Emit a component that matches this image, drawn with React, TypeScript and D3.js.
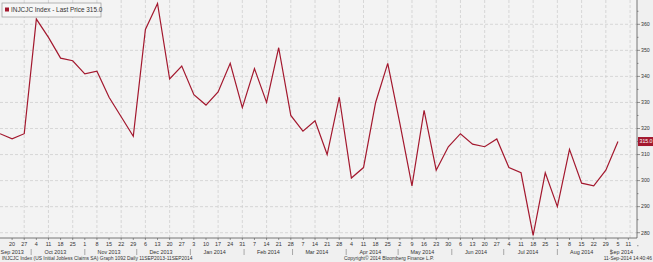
import React from "react";
import * as d3 from "d3";

const startDate = "2013-09-13";
const values = [
  318, 316, 318, 362, 355, 347, 346, 341, 342, 332, 324.5, 317, 358, 368, 339, 344,
  333, 329, 334, 345, 328, 343, 330, 351, 325, 319, 323, 310, 332, 301, 305, 330,
  345, 322, 298, 327, 304, 313, 318, 314, 313, 316, 305, 303, 279, 303, 290, 312,
  299, 298, 304, 315,
];
const yTicks = [280, 290, 300, 310, 320, 330, 340, 350, 360];
const tickDays = [
  "20", "27", "4", "11", "18", "25", "1", "8", "15", "22", "29", "6", "13", "20", "27",
  "3", "10", "17", "24", "31", "7", "14", "21", "28", "7", "14", "21", "28", "4", "11",
  "18", "25", "2", "9", "16", "23", "30", "6", "13", "20", "27", "4", "11", "18", "25",
  "1", "8", "15", "22", "29", "5", "11",
];
const monthLabels = [
  "Sep 2013", "Oct 2013", "Nov 2013", "Dec 2013", "Jan 2014", "Feb 2014", "Mar 2014",
  "Apr 2014", "May 2014", "Jun 2014", "Jul 2014", "Aug 2014", "Sep 2014",
];
const legendText = "INJCJC Index - Last Price 315.0";
const lastLabel = "315.0";
const footerLeft = "INJCJC Index (US Initial Jobless Claims SA) Graph 1092  Daily 11SEP2013-11SEP2014";
const footerMid = "Copyright\u00A9 2014 Bloomberg Finance L.P.";
const footerRight = "11-Sep-2014 14:40:46";

const W = 653;
const H = 262;
const plotR = 637;
const plotB = 238;
const font = "'Liberation Sans', Arial, sans-serif";
const red = "#a3182e";

export default function App() {
  const parse = d3.utcParse("%Y-%m-%d");
  const d0 = parse(startDate) as Date;
  const dates = values.map((_, i) => d3.utcDay.offset(d0, i * 7));
  const x = d3
    .scaleUtc()
    .domain([d0, parse("2014-09-16") as Date])
    .range([0, plotR]);
  const y = d3.scaleLinear().domain([280, 360]).range([232.7, 24.3]);

  const tickDates = tickDays.map((_, i) =>
    i < tickDays.length - 1
      ? d3.utcDay.offset(d0, (i + 1) * 7)
      : (parse("2014-09-11") as Date)
  );
  const gridDates = d3.range(0, 27).map((k) => d3.utcDay.offset(d0, 14 + k * 14));
  const minorY = d3.range(275, 366, 5);

  const monthStarts = d3.utcMonth.range(parse("2013-10-01") as Date, parse("2014-09-02") as Date);
  const monthCenters = monthLabels.map((_, i) => {
    if (i === 0) return x(parse("2013-09-20") as Date);
    if (i === monthLabels.length - 1) return x(parse("2014-09-07") as Date);
    const m = d3.utcMonth.offset(parse("2013-09-15") as Date, i);
    return x(m);
  });

  const line = d3
    .line<number>()
    .x((_, i) => x(dates[i]))
    .y((v) => y(v));

  return (
    <svg
      width={W}
      height={H}
      style={{ position: "absolute", left: 0, top: 0, display: "block" }}
      fontFamily={font}
    >
      <rect x={0} y={0} width={W} height={H} fill="#f0f0f0" />
      <rect x={0} y={0} width={plotR} height={plotB} fill="#f3f3f3" />
      {yTicks.map((t) => (
        <line
          key={"gy" + t}
          x1={0}
          x2={plotR}
          y1={y(t)}
          y2={y(t)}
          stroke="#cfcfcf"
          strokeWidth={0.8}
          strokeDasharray="3,2"
        />
      ))}
      {gridDates.map((d, i) => (
        <line
          key={"gx" + i}
          x1={x(d)}
          x2={x(d)}
          y1={0}
          y2={plotB}
          stroke="#cfcfcf"
          strokeWidth={0.8}
          strokeDasharray="3,2"
        />
      ))}
      <path d={line(values) || ""} fill="none" stroke={red} strokeWidth={1.2} />
      <line x1={0} x2={plotR} y1={plotB} y2={plotB} stroke="#555" strokeWidth={0.8} />
      <line x1={plotR} x2={plotR} y1={0} y2={plotB} stroke="#555" strokeWidth={0.8} />
      {minorY.map((t) => (
        <line
          key={"my" + t}
          x1={plotR}
          x2={plotR + (t % 10 === 0 ? 3 : 1.5)}
          y1={y(t)}
          y2={y(t)}
          stroke="#555"
          strokeWidth={0.6}
        />
      ))}
      {yTicks.map((t) => (
        <text
          key={"ty" + t}
          x={plotR + 4}
          y={y(t)}
          dy="0.35em"
          fontSize={5.2}
          fill="#333"
        >
          {t}
        </text>
      ))}
      <rect x={plotR + 1} y={y(315) - 4.5} width={W - plotR - 1} height={9} fill={red} />
      <text x={plotR + 2.5} y={y(315)} dy="0.35em" fontSize={5.2} fill="#fff">
        {lastLabel}
      </text>
      {tickDates.map((d, i) => (
        <g key={"tx" + i}>
          <line x1={x(d)} x2={x(d)} y1={plotB} y2={plotB + 2} stroke="#555" strokeWidth={0.6} />
          <text x={x(d)} y={plotB + 8} textAnchor="middle" fontSize={5.4} fill="#333">
            {tickDays[i]}
          </text>
        </g>
      ))}
      {monthStarts.map((d, i) => (
        <line
          key={"ms" + i}
          x1={x(d)}
          x2={x(d)}
          y1={plotB + 11}
          y2={plotB + 17}
          stroke="#777"
          strokeWidth={0.6}
        />
      ))}
      {monthLabels.map((m, i) => (
        <text
          key={"ml" + i}
          x={monthCenters[i]}
          y={plotB + 16}
          textAnchor="middle"
          fontSize={5.4}
          fill="#333"
        >
          {m}
        </text>
      ))}
      <text x={2} y={260} fontSize={4.9} fill="#333">
        {footerLeft}
      </text>
      <text x={389} y={260} textAnchor="middle" fontSize={4.9} fill="#333">
        {footerMid}
      </text>
      <text x={W - 1} y={260} textAnchor="end" fontSize={4.9} fill="#333">
        {footerRight}
      </text>
      <rect x={2} y={3} width={99} height={14} fill="#f6f6f6" stroke="#999" strokeWidth={0.7} />
      <rect x={5} y={7.5} width={4} height={4} fill={red} />
      <text x={11} y={12.2} fontSize={6.4} fill="#333">
        {legendText}
      </text>
    </svg>
  );
}
